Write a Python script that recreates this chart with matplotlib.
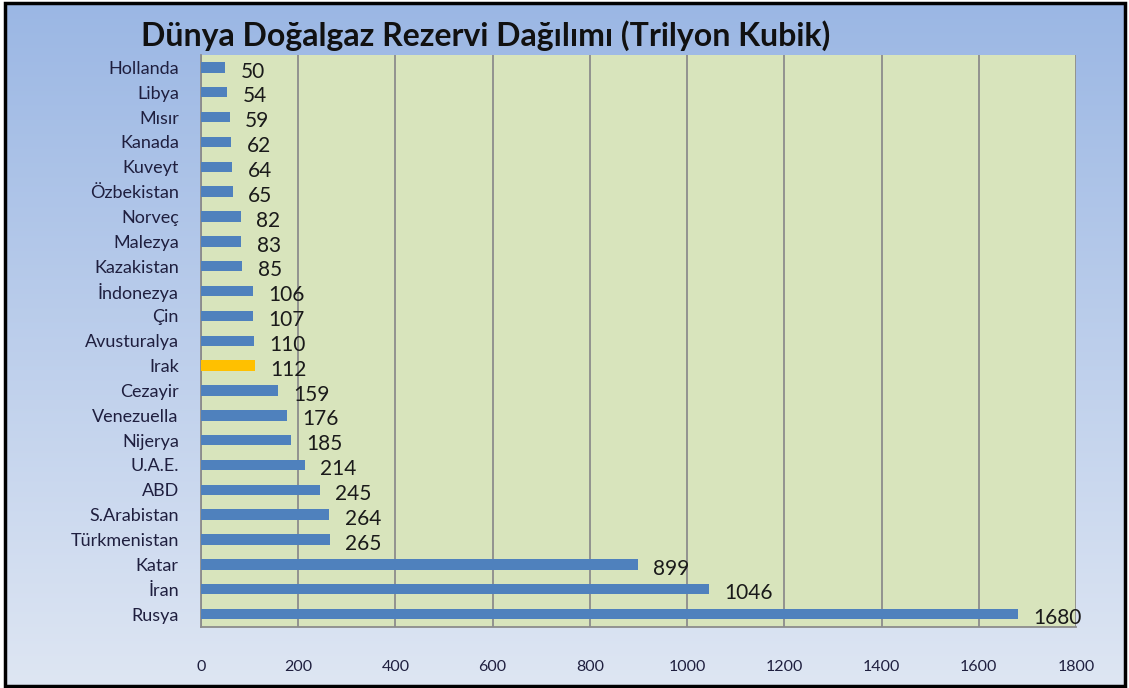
import numpy as np
import matplotlib
matplotlib.use("Agg")
from matplotlib import pyplot as plt
from matplotlib.patches import Rectangle

countries = ['Rusya', 'İran', 'Katar', 'Türkmenistan', 'S.Arabistan', 'ABD', 'U.A.E.',
             'Nijerya', 'Venezuella', 'Cezayir', 'Irak', 'Avusturalya', 'Çin', 'İndonezya',
             'Kazakistan', 'Malezya', 'Norveç', 'Özbekistan', 'Kuveyt', 'Kanada', 'Mısır',
             'Libya', 'Hollanda']
reserves = [1680, 1046, 899, 265, 264, 245, 214, 185, 176, 159, 112, 110, 107, 106,
            85, 83, 82, 65, 64, 62, 59, 54, 50]
highlight = 'Irak'
x_ticks = [0, 200, 400, 600, 800, 1000, 1200, 1400, 1600, 1800]
title = 'Dünya Doğalgaz Rezervi Dağılımı (Trilyon Kubik)'

plt.rcParams['font.family'] = ['Lato', 'DejaVu Sans']

fig = plt.figure(figsize=(11.29, 6.88), dpi=100)

# gradient background inside the frame
bg = fig.add_axes([5 / 1129, 1 - 686 / 688, 1120 / 1129, 683 / 688])
grad = np.linspace(0, 1, 256).reshape(-1, 1)
top = np.array([155, 183, 228]) / 255
bottom = np.array([222, 230, 243]) / 255
img = top + (bottom - top) * grad[:, :, None]
bg.imshow(img, aspect='auto', extent=[0, 1, 0, 1])
bg.set_axis_off()
fig.patches.append(Rectangle((5 / 1129, 1 - 686 / 688), 1120 / 1129, 683 / 688,
                             transform=fig.transFigure, fill=False,
                             edgecolor='black', linewidth=2.5, zorder=10))

ax = fig.add_axes([201 / 1129, 1 - 627 / 688, 875 / 1129, 572 / 688])
ax.set_facecolor('#d8e4bc')
colors = ['#ffc000' if c == highlight else '#4f81bd' for c in countries]
y = np.arange(len(countries))
ax.barh(y, reserves, height=0.42, color=colors, zorder=3)
for yi, v in zip(y, reserves):
    ax.annotate(str(v), (v, yi), xytext=(11, -3), textcoords='offset points',
                va='center', ha='left', fontsize=15, color='#1a1a1a', zorder=4)

ax.set_xlim(0, 1800)
ax.set_ylim(-0.52, len(countries) - 0.5)
ax.set_xticks(x_ticks)
ax.set_yticks(y)
ax.set_yticklabels(countries)
ax.xaxis.grid(True, color='#8c8c8c', linewidth=1.3, zorder=1)
ax.tick_params(axis='both', length=0, colors='#1f1f3f')
ax.tick_params(axis='x', pad=24, labelsize=11.5)
ax.tick_params(axis='y', pad=16, labelsize=13)
for s in ['top', 'right']:
    ax.spines[s].set_visible(False)
for s in ['left', 'bottom']:
    ax.spines[s].set_color('#8c8c8c')
    ax.spines[s].set_linewidth(1.3)

fig.text(0.43, 1 - 36 / 688, title, ha='center', va='center', fontsize=23,
         fontweight='bold', color='#111111')

fig.savefig('out.png', dpi=100)
